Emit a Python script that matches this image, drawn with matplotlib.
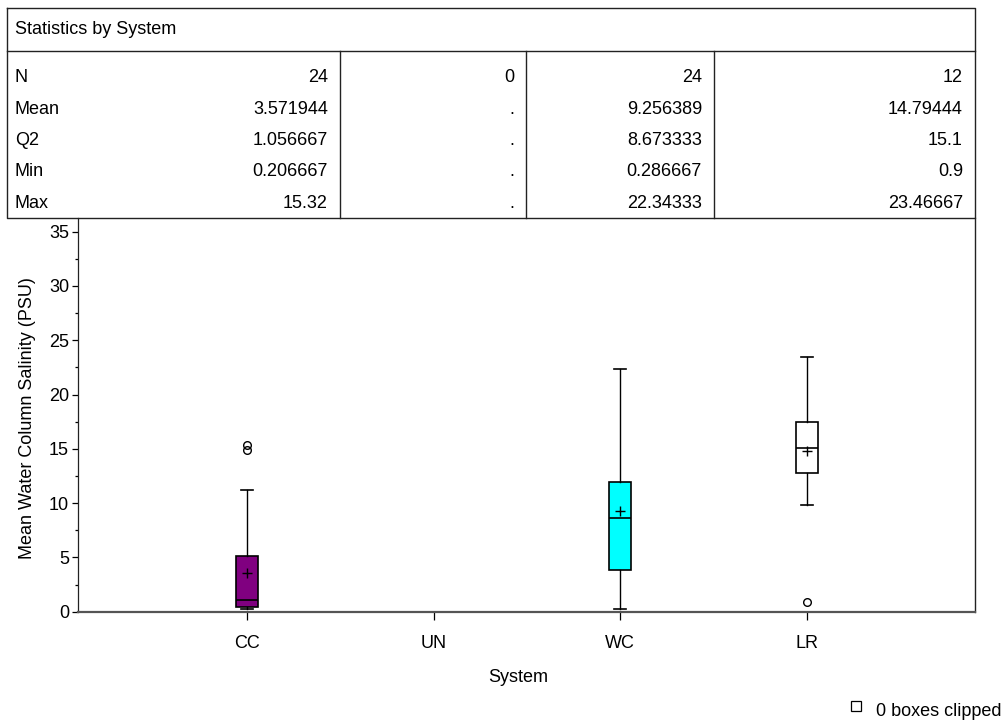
import matplotlib
matplotlib.use("Agg")
import matplotlib.pyplot as plt
from matplotlib.ticker import MultipleLocator

plt.rcParams['font.family'] = ['Liberation Sans', 'DejaVu Sans']

# ---- data ---------------------------------------------------------------
systems = ["CC", "UN", "WC", "LR"]
n_obs = [24, 0, 24, 12]
means = [3.571944, None, 9.256389, 14.79444]
q2 = [1.056667, None, 8.673333, 15.1]
mins = [0.206667, None, 0.286667, 0.9]
maxs = [15.32, None, 22.34333, 23.46667]
mean_labels = ["3.571944", ".", "9.256389", "14.79444"]
q2_labels = ["1.056667", ".", "8.673333", "15.1"]
min_labels = ["0.206667", ".", "0.286667", "0.9"]
max_labels = ["15.32", ".", "22.34333", "23.46667"]
q1 = [0.40, None, 3.85, 12.75]
q3 = [5.10, None, 11.90, 17.50]
whisk_lo = [0.206667, None, 0.286667, 9.85]
whisk_hi = [11.23, None, 22.34333, 23.46667]
outliers = [[14.85, 15.32], [], [], [0.9]]
box_colors = ["#800080", None, "#00FFFF", "#FFFFFF"]

W, H = 1006, 721
fig = plt.figure(figsize=(W / 100, H / 100), dpi=100)

FS = 13

# ---- box plot panel -----------------------------------------------------
ax_left, ax_right, ax_top, ax_bot = 78, 975, 218, 611.7
ax = fig.add_axes([ax_left / W, 1 - ax_bot / H,
                   (ax_right - ax_left) / W, (ax_bot - ax_top) / H])

stats, positions, colors = [], [], []
for i, s in enumerate(systems):
    if n_obs[i] == 0:
        continue
    stats.append(dict(label=s, mean=means[i], med=q2[i], q1=q1[i], q3=q3[i],
                      whislo=whisk_lo[i], whishi=whisk_hi[i],
                      fliers=outliers[i]))
    positions.append(i + 1)
    colors.append(box_colors[i])

bp = ax.bxp(stats, positions=positions, widths=0.118, capwidths=0.065,
            showmeans=True, meanline=False, patch_artist=True,
            boxprops=dict(edgecolor="black", linewidth=1.2),
            medianprops=dict(color="black", linewidth=1.2),
            whiskerprops=dict(color="black", linewidth=1.0),
            capprops=dict(color="black", linewidth=1.2),
            meanprops=dict(marker="+", markersize=7, markeredgecolor="black",
                           markeredgewidth=1.0),
            flierprops=dict(marker="o", markersize=5.5, markerfacecolor="none",
                            markeredgecolor="black", markeredgewidth=1.0))
for patch, c in zip(bp["boxes"], colors):
    patch.set_facecolor(c)

ax.set_xlim(0.096, 4.9)
ax.set_ylim(0, 36.26)
ax.set_xticks(range(1, len(systems) + 1))
ax.set_xticklabels(systems, fontsize=FS)
ax.yaxis.set_major_locator(MultipleLocator(5))
ax.yaxis.set_minor_locator(MultipleLocator(2.5))
ax.tick_params(axis="y", which="major", direction="out", length=4.5,
               width=0.9, labelsize=FS, pad=2)
ax.tick_params(axis="y", which="minor", direction="out", length=2.5, width=0.9)
ax.tick_params(axis="x", which="major", direction="out", length=5.5,
               width=0.9, labelsize=FS, pad=11)
ax.spines["top"].set_visible(False)
ax.spines["left"].set_color("#222222")
ax.spines["left"].set_linewidth(0.9)
ax.spines["right"].set_color("#222222")
ax.spines["right"].set_linewidth(1.0)
ax.spines["bottom"].set_color("#555555")
ax.spines["bottom"].set_linewidth(1.6)
ax.patch.set_alpha(0)

# ---- statistics table and labels, drawn in pixel space ------------------
ov = fig.add_axes([0, 0, 1, 1], zorder=3)
ov.set_xlim(0, W)
ov.set_ylim(H, 0)
ov.axis("off")
ov.patch.set_alpha(0)

lc = "#222222"
t_left, t_right, t_top, t_title, t_bot = 7, 975, 8, 51, 218
col_edges = [t_left, 340, 526, 714, t_right]
ov.plot([t_left, t_right, t_right, t_left, t_left],
        [t_top, t_top, t_bot, t_bot, t_top], color=lc, lw=1.0)
ov.plot([t_left, t_right], [t_title, t_title], color=lc, lw=1.0)
for x in col_edges[1:-1]:
    ov.plot([x, x], [t_title, t_bot], color=lc, lw=1.0)

ov.text(15, 30, "Statistics by System", fontsize=FS, ha="left", va="center")

row_names = ["N", "Mean", "Q2", "Min", "Max"]
row_vals = [[str(v) for v in n_obs], mean_labels, q2_labels, min_labels,
            max_labels]
row_y = [77.5, 109, 140.5, 172, 203.5]
for name, vals, y in zip(row_names, row_vals, row_y):
    ov.text(15, y, name, fontsize=FS, ha="left", va="center")
    for j, v in enumerate(vals):
        ov.text(col_edges[j + 1] - 12, y, v, fontsize=FS, ha="right",
                va="center")

ov.text(28, 418, "Mean Water Column Salinity (PSU)", fontsize=FS,
        rotation=90, ha="center", va="center")
ov.text(518, 677, "System", fontsize=FS, ha="center", va="center")

ov.plot([856], [706], marker="s", markersize=7, markerfacecolor="white",
        markeredgecolor="black", markeredgewidth=0.9)
ov.text(876, 711, "0 boxes clipped", fontsize=FS, ha="left", va="center")

fig.savefig("out.png", dpi=100, facecolor="white")
